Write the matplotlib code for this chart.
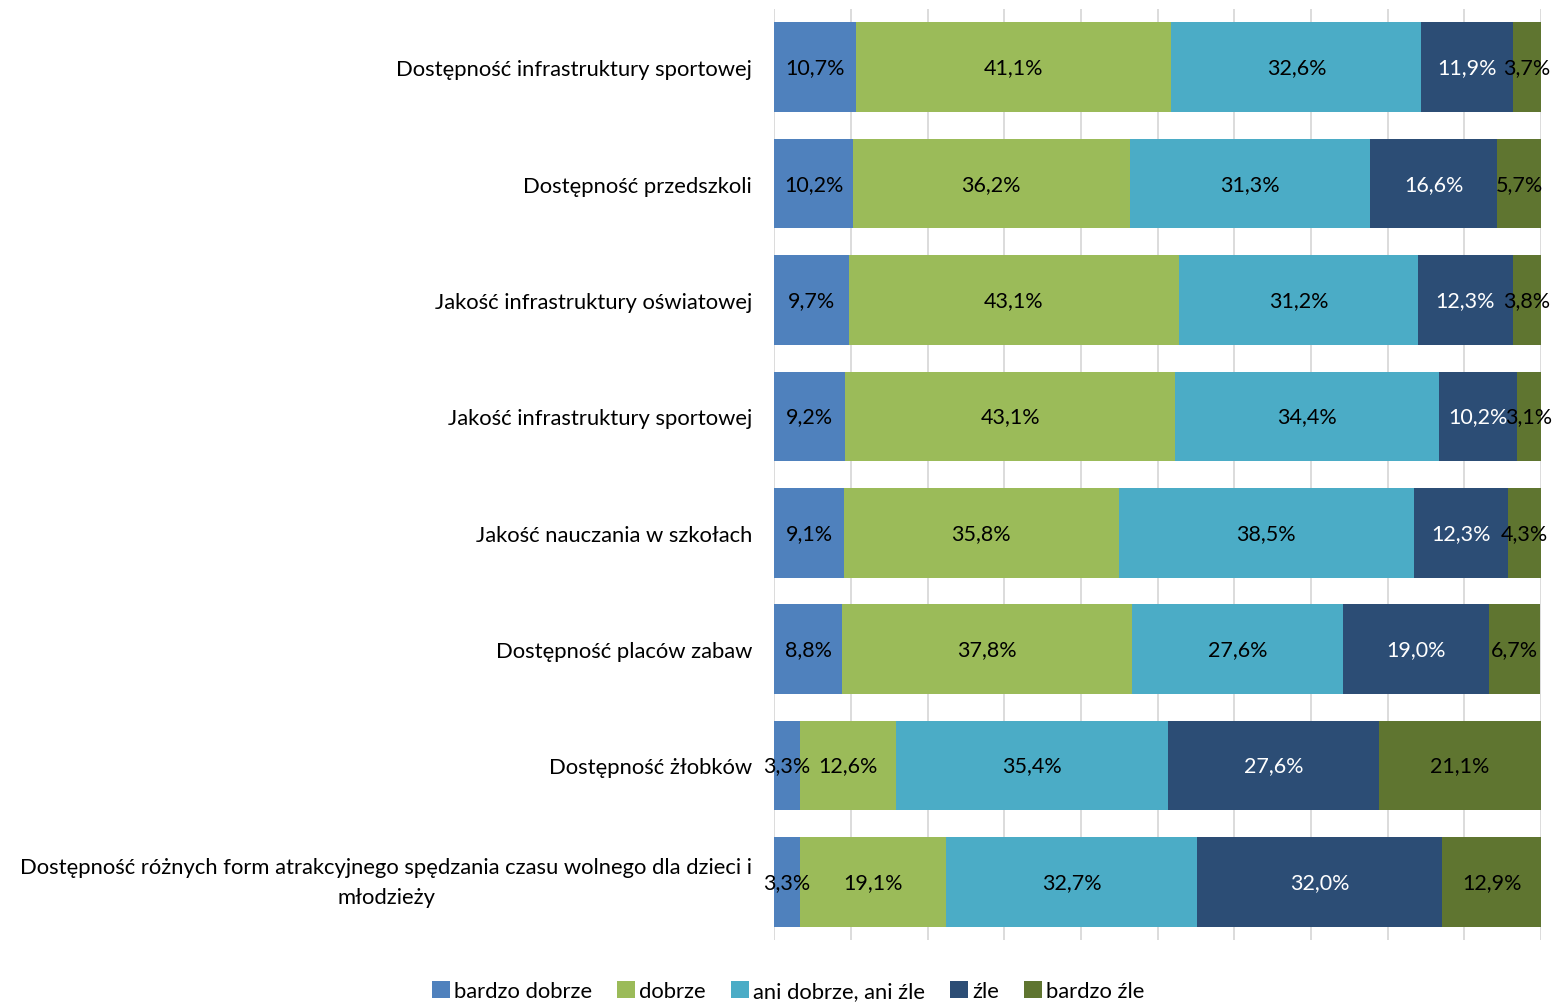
import numpy as np
import matplotlib.pyplot as plt

plt.rcParams['font.family'] = ['Lato', 'DejaVu Sans']

# Categories, top to bottom
categories = [
    'Dostępność infrastruktury sportowej',
    'Dostępność przedszkoli',
    'Jakość infrastruktury oświatowej',
    'Jakość infrastruktury sportowej',
    'Jakość nauczania w szkołach',
    'Dostępność placów zabaw',
    'Dostępność żłobków',
    'Dostępność różnych form atrakcyjnego spędzania czasu wolnego dla dzieci i\nmłodzieży',
]

series_names = ['bardzo dobrze', 'dobrze', 'ani dobrze, ani źle', 'źle', 'bardzo źle']

bardzo_dobrze = [10.7, 10.2, 9.7, 9.2, 9.1, 8.8, 3.3, 3.3]
dobrze = [41.1, 36.2, 43.1, 43.1, 35.8, 37.8, 12.6, 19.1]
ani = [32.6, 31.3, 31.2, 34.4, 38.5, 27.6, 35.4, 32.7]
zle = [11.9, 16.6, 12.3, 10.2, 12.3, 19.0, 27.6, 32.0]
bardzo_zle = [3.7, 5.7, 3.8, 3.1, 4.3, 6.7, 21.1, 12.9]

colors = ['#4F81BD', '#9BBB59', '#4BACC6', '#2C4D75', '#5F7530']
text_colors = ['black', 'black', 'black', 'white', 'black']

data = [bardzo_dobrze, dobrze, ani, zle, bardzo_zle]

fig = plt.figure(figsize=(15.55, 10.04), dpi=100)
ax = fig.add_axes([0.498, 0.0627, 0.493, 0.9273])

y = np.arange(len(categories))
left = np.zeros(len(categories))
for vals, name, col, tcol in zip(data, series_names, colors, text_colors):
    vals = np.array(vals)
    bars = ax.barh(y, vals, left=left, height=0.77, color=col, label=name, zorder=3)
    labels = [f'{v:.1f}%'.replace('.', ',') for v in vals]
    texts = ax.bar_label(bars, labels=labels, label_type='center', color=tcol, fontsize=15.5)
    for t in texts:
        t.set_zorder(10)
    left += vals

ax.set_xlim(0, 100)
ax.set_ylim(len(categories) - 0.5, -0.5)
ax.set_xticks(np.arange(0, 101, 10))
ax.set_xticklabels([])
ax.tick_params(axis='x', length=0)
ax.tick_params(axis='y', length=0, pad=16)
ax.set_yticks(y)
ax.set_yticklabels(categories, fontsize=15.8, multialignment='center', linespacing=1.65)
# the wrapped label sits centred on its bar
ax.get_yticklabels()[-1].set_va('center')
ax.grid(axis='x', color='#D9D9D9', linewidth=1.3, zorder=0)
for s in ax.spines.values():
    s.set_visible(False)

handles, labs = ax.get_legend_handles_labels()
fig.legend(handles, labs, loc='lower center', bbox_to_anchor=(0.507, -0.018), ncol=5,
           frameon=False, fontsize=15.8, handlelength=0.8, handleheight=0.8,
           handletextpad=0.2, columnspacing=1.15)

fig.savefig('out.png', dpi=100)
